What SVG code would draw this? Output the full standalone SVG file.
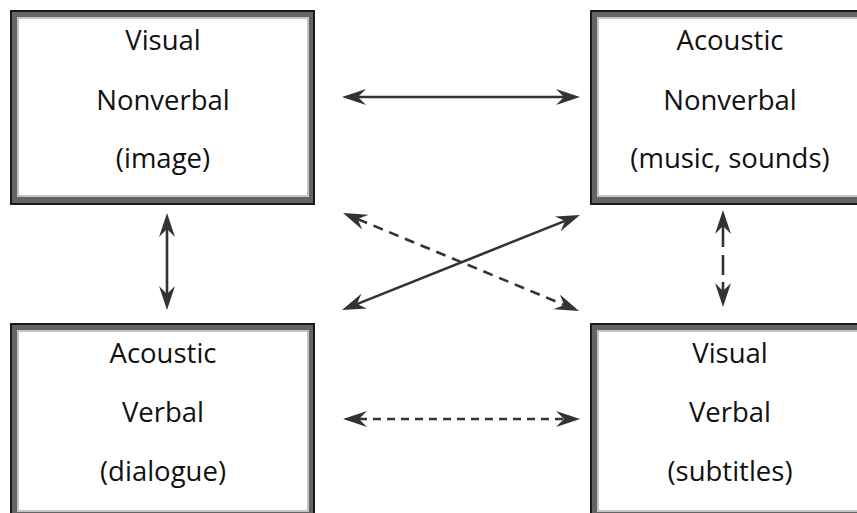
<svg xmlns="http://www.w3.org/2000/svg" width="857" height="513" viewBox="0 0 857 513">
<style>
.frame{fill:#646464;stroke:#1a1a1a;stroke-width:2}
.inner{fill:#ffffff;stroke:#c4c4c4;stroke-width:2}
.lbl{font-family:"Open Sans","Liberation Sans",sans-serif;font-size:27.5px;fill:#111;text-anchor:middle}
.ln{fill:none;stroke:#333;stroke-width:2.6}
.dash{stroke-dasharray:8,6}
.ddash{stroke-dasharray:10,7}
</style>
<defs>
<marker id="ah" viewBox="0 0 24 16" markerWidth="24" markerHeight="16" refX="8" refY="8" markerUnits="userSpaceOnUse" orient="auto-start-reverse">
<path d="M0,0 L24,8 L0,16 L8,8 Z" fill="#333"/>
</marker>
</defs>
<g id="visual-nonverbal">
<rect class="frame" x="11" y="11" width="303" height="193"/>
<rect class="inner" x="18" y="18" width="290" height="178"/>
<text class="lbl" x="163" y="50">Visual</text>
<text class="lbl" x="163" y="110">Nonverbal</text>
<text class="lbl" x="163" y="168">(image)</text>
</g>
<g id="acoustic-nonverbal">
<rect class="frame" x="591" y="11" width="290" height="193"/>
<rect class="inner" x="598" y="18" width="264" height="178"/>
<text class="lbl" x="730" y="50">Acoustic</text>
<text class="lbl" x="730" y="110">Nonverbal</text>
<text class="lbl" x="730" y="168">(music, sounds)</text>
</g>
<g id="acoustic-verbal">
<rect class="frame" x="11" y="324" width="303" height="200"/>
<rect class="inner" x="18" y="331" width="290" height="180"/>
<text class="lbl" x="163" y="363">Acoustic</text>
<text class="lbl" x="163" y="422">Verbal</text>
<text class="lbl" x="163" y="481">(dialogue)</text>
</g>
<g id="visual-verbal">
<rect class="frame" x="591" y="324" width="290" height="200"/>
<rect class="inner" x="598" y="331" width="264" height="180"/>
<text class="lbl" x="730" y="363">Visual</text>
<text class="lbl" x="730" y="422">Verbal</text>
<text class="lbl" x="730" y="481">(subtitles)</text>
</g>
<g id="connectors">
<path class="ln" d="M358,97 L564,97" marker-start="url(#ah)" marker-end="url(#ah)"/>
<path class="ln dash" d="M359,419 L564,419" marker-start="url(#ah)" marker-end="url(#ah)"/>
<path class="ln" d="M167,229 L167,294" marker-start="url(#ah)" marker-end="url(#ah)"/>
<path class="ln" style="stroke-dasharray:21,8,20,7,30" d="M723,226 L723,291" marker-start="url(#ah)" marker-end="url(#ah)"/>
<path class="ln" d="M356.9,304.1 L565.1,220.9" marker-start="url(#ah)" marker-end="url(#ah)"/>
<path class="ln ddash" d="M357.8,219.1 L564.2,304.9" marker-start="url(#ah)" marker-end="url(#ah)"/>
</g>
</svg>
